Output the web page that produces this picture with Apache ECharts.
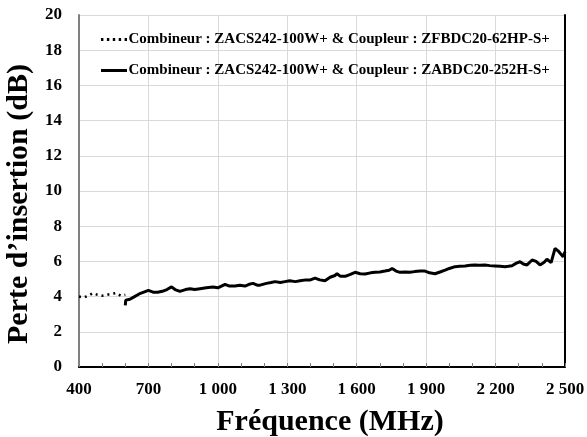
<!DOCTYPE html>
<html><head><meta charset="utf-8">
<script src="https://cdn.jsdelivr.net/npm/echarts@6/dist/echarts.min.js"></script>
<style>html,body{margin:0;padding:0;background:#fff}#c{width:587px;height:437px}</style>
</head><body><div id="c"></div>
<script>
var seriesNames = [
  'Combineur : ZACS242-100W+ & Coupleur : ZFBDC20-62HP-S+',
  'Combineur : ZACS242-100W+ & Coupleur : ZABDC20-252H-S+'
];
var xTicks = [400, 700, 1000, 1300, 1600, 1900, 2200, 2500];
var yTicks = [0, 2, 4, 6, 8, 10, 12, 14, 16, 18, 20];
var freqDotted = [400, 420, 440, 460, 480, 500, 520, 540, 560, 580, 600];
var lossDotted = [4.0, 3.95, 4.05, 4.2, 4.1, 4.05, 4.1, 4.15, 4.2, 4.05, 4.1];
var freqSolid = [600,602,620,640,660,680,700,720,740,760,780,800,815,836,860,880,900,923,950,979,1000,1031,1050,1074,1095,1117,1135,1152,1170,1182,1210,1230,1247,1270,1290,1310,1335,1355,1380,1400,1420,1440,1463,1485,1506,1515,1530,1550,1570,1593,1615,1636,1660,1679,1700,1722,1740,1753,1770,1787,1810,1830,1850,1875,1895,1915,1938,1960,1982,2000,2025,2045,2068,2090,2111,2130,2154,2175,2198,2220,2241,2255,2271,2290,2306,2320,2336,2358,2375,2392,2410,2422,2440,2457,2470,2479,2492,2500];
var lossSolid = [3.5,3.8,3.85,4.0,4.15,4.25,4.35,4.25,4.25,4.3,4.4,4.55,4.4,4.3,4.4,4.45,4.4,4.45,4.5,4.55,4.5,4.7,4.6,4.6,4.65,4.6,4.7,4.75,4.65,4.65,4.75,4.8,4.85,4.8,4.85,4.9,4.85,4.9,4.95,4.95,5.05,4.95,4.9,5.1,5.2,5.3,5.15,5.15,5.25,5.38,5.3,5.28,5.35,5.38,5.4,5.45,5.5,5.6,5.45,5.38,5.4,5.38,5.42,5.45,5.45,5.35,5.3,5.4,5.5,5.6,5.7,5.72,5.74,5.78,5.8,5.78,5.8,5.76,5.74,5.72,5.7,5.72,5.75,5.9,5.98,5.85,5.8,6.08,6.0,5.8,5.95,6.12,5.93,6.74,6.6,6.46,6.27,6.55];

function zip(a, b) { return a.map(function (v, i) { return [v, b[i]]; }); }
function fmtX(v) {
  if (v >= 1000) { var r = String(v % 1000); while (r.length < 3) r = '0' + r; return Math.floor(v / 1000) + ' ' + r; }
  return String(v);
}
var FONT = '"Liberation Serif", "Times New Roman", serif';
var dotIcon = 'path://M0,0h2.4v3h-2.4z M5.9,0h2.4v3h-2.4z M11.8,0h2.4v3h-2.4z M17.7,0h2.4v3h-2.4z M23.6,0h2.4v3h-2.4z';
var lineIcon = 'path://M0,0h26v3h-26z';
var chart = echarts.init(document.getElementById('c'), null, {renderer: 'canvas'});
chart.setOption({
  animation: false,
  backgroundColor: '#fff',
  grid: {left: 79, right: 22, top: 15, bottom: 70, containLabel: false, outerBoundsMode: 'none'},
  legend: {
    left: 96, top: 27, orient: 'vertical', itemGap: 16,
    itemWidth: 27, itemHeight: 3,
    textStyle: {fontFamily: FONT, fontWeight: 'bold', fontSize: 15, color: '#000', padding: [0,0,0,-4]},
    data: [
      {name: seriesNames[0], icon: dotIcon, itemStyle: {color: '#000'}},
      {name: seriesNames[1], icon: lineIcon, itemStyle: {color: '#000'}}
    ]
  },
  xAxis: [{
    type: 'value', min: xTicks[0], max: xTicks[xTicks.length - 1], interval: 300,
    name: 'Fréquence (MHz)', nameLocation: 'middle', nameGap: 40,
    nameTextStyle: {fontFamily: FONT, fontWeight: 'bold', fontSize: 30, color: '#000', padding: [0, 0, 0, 16]},
    axisLine: {show: true, lineStyle: {color: '#808080', width: 2}},
    axisTick: {show: true, inside: true, length: 4, lineStyle: {color: '#808080'}},
    minorTick: {show: true, splitNumber: 3, length: 4, lineStyle: {color: '#808080'}},
    axisLabel: {fontFamily: FONT, fontWeight: 'bold', fontSize: 17, color: '#000', margin: 14, formatter: fmtX},
    splitLine: {show: true, lineStyle: {color: '#d9d9d9', width: 1}}
  }, {
    type: 'value', position: 'top', min: xTicks[0], max: xTicks[xTicks.length - 1], interval: 300,
    axisLine: {show: true, lineStyle: {color: '#000', width: 2}},
    axisTick: {show: false}, axisLabel: {show: false}, splitLine: {show: false}
  }],
  yAxis: [{
    type: 'value', min: yTicks[0], max: yTicks[yTicks.length - 1], interval: 2,
    name: 'Perte d\u2019insertion (dB)', nameLocation: 'middle', nameGap: 29,
    nameTextStyle: {fontFamily: FONT, fontWeight: 'bold', fontSize: 30, color: '#000', padding: [12, 26, 0, 0]},
    axisLine: {show: true, lineStyle: {color: '#808080', width: 2}},
    axisTick: {show: false},
    axisLabel: {fontFamily: FONT, fontWeight: 'bold', fontSize: 17, color: '#000', margin: 17},
    splitLine: {show: true, lineStyle: {color: '#d9d9d9', width: 1}}
  }, {
    type: 'value', position: 'right', min: yTicks[0], max: yTicks[yTicks.length - 1], interval: 2,
    axisLine: {show: true, lineStyle: {color: '#000', width: 2}},
    axisTick: {show: false}, axisLabel: {show: false}, splitLine: {show: false}
  }],
  series: [{
    name: seriesNames[0], type: 'line', showSymbol: false, symbol: 'none',
    data: zip(freqDotted, lossDotted),
    lineStyle: {color: '#000', width: 2.5, type: [2, 4]},
    itemStyle: {color: '#000'}
  }, {
    name: seriesNames[1], type: 'line', showSymbol: false, symbol: 'none',
    data: zip(freqSolid, lossSolid),
    lineStyle: {color: '#000', width: 3},
    itemStyle: {color: '#000'}
  }]
});
</script></body></html>
